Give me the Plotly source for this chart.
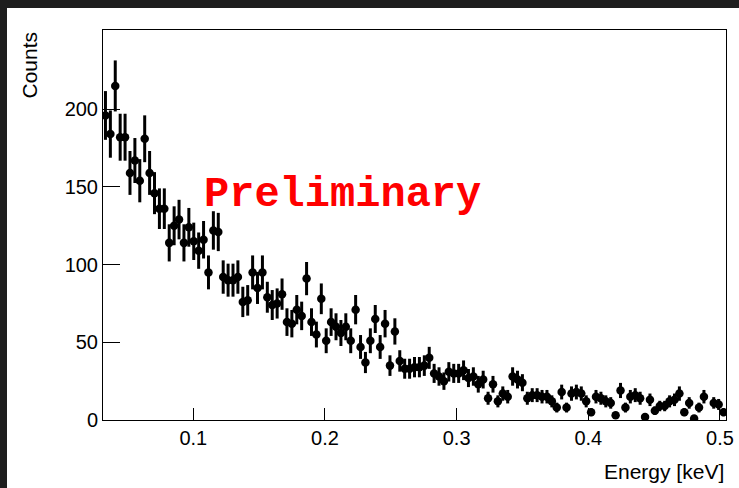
import numpy as np
import plotly.graph_objects as go

# Histogram binning (keV)
x_min = 0.0314
x_max = 0.5046
n_bins = 127

# Counts per bin (None = empty bin, not drawn)
counts = [
    196, 184, 215, 182, 182, 159, 167, 154, 181, 159,
    146, 136, 136, 114, 125, 129, 114, 124, 115, 109,
    116, 95, 122, 121, 92, 90, 90, 92, 76, 77,
    95, 85, 95, 79, 74, 75, 81, 63, 62, 71,
    67, 91, 63, 55, 78, 51, 63, 60, 56, 60,
    51, 71, 47, 37, 51, 65, 47, 62, 35, 57,
    38, 33, 33, 34, 34, 35, 40, 30, 28, 25,
    31, 30, 30, 32, 27, 28, 23, 26, 14, 23,
    12, 17, 15, 28, 26, 24, 14, 16, 16, 15,
    15, 12, 8, 18, 8, 17, 18, 17, 12, 5,
    15, 14, 12, 11, 3, 19, 8, 15, 16, 14,
    2, 13, 6, 9, 9, 12, 13, 17, 5, 11,
    1, 8, 15, None, 11, 10, 5,
]

x_ticks = [0.1, 0.2, 0.3, 0.4, 0.5]
x_ticklabels = ["0.1", "0.2", "0.3", "0.4", "0.5"]
y_ticks = [0, 50, 100, 150, 200]
y_ticklabels = ["0", "50", "100", "150", "200"]

edges = np.linspace(x_min, x_max, n_bins + 1)
centers = 0.5 * (edges[:-1] + edges[1:])
# Poisson-like statistical uncertainty
errors = [None if c is None else 1.12 * np.sqrt(c) for c in counts]

W, H = 739, 488
L, R, T, B = 103, 726, 30, 420  # plot area in pixels
DARK = "#1e1e1e"


def px(xp):
    return (xp - L) / (R - L)


def py(yp):
    return (B - yp) / (B - T)


fig = go.Figure()
fig.add_trace(go.Scatter(
    x=centers, y=counts, mode="markers",
    marker=dict(color="black", size=8.5, symbol="circle"),
    error_y=dict(type="data", array=errors, visible=True,
                 color="black", thickness=3, width=0),
    showlegend=False, hoverinfo="x+y",
))

font = "Liberation Sans, Arial, Helvetica, sans-serif"

fig.update_layout(
    width=W, height=H, autosize=False,
    margin=dict(l=L, r=W - R, t=T, b=H - B, pad=0, autoexpand=False),
    paper_bgcolor="white",
    plot_bgcolor="white",
    font=dict(family=font, size=20, color="black"),
    xaxis=dict(
        range=[x_min, x_max], tickvals=x_ticks, ticktext=x_ticklabels,
        ticks="inside", ticklen=12, tickwidth=1, tickcolor="black",
        showline=True, linecolor="black", linewidth=1, mirror=True,
        showgrid=False, zeroline=False, automargin=False,
        tickfont=dict(family=font, size=20, color="black"),
    ),
    yaxis=dict(
        range=[0, 251], tickvals=y_ticks, ticktext=y_ticklabels,
        ticks="inside", ticklen=17, tickwidth=1, tickcolor="black",
        showline=True, linecolor="black", linewidth=1, mirror=True,
        showgrid=False, zeroline=False, automargin=False,
        tickfont=dict(family=font, size=20, color="black"),
    ),
    shapes=[
        dict(type="rect", xref="paper", yref="paper", layer="below",
             x0=px(-2), x1=px(W + 2), y0=py(8), y1=py(-2),
             fillcolor=DARK, line=dict(width=0)),
        dict(type="rect", xref="paper", yref="paper", layer="below",
             x0=px(-2), x1=px(7), y0=py(H + 2), y1=py(-2),
             fillcolor=DARK, line=dict(width=0)),
    ],
    annotations=[
        dict(text="Counts", xref="paper", yref="paper",
             x=px(29), y=1.0, xanchor="center", yanchor="top",
             textangle=-90, showarrow=False,
             font=dict(family=font, size=21, color="black")),
        dict(text="Energy [keV]", xref="paper", yref="paper",
             x=1.0, y=py(471), xanchor="right", yanchor="middle",
             showarrow=False,
             font=dict(family=font, size=21, color="black")),
        dict(text="<b>Preliminary</b>", xref="paper", yref="paper",
             x=px(342), y=py(195), xanchor="center", yanchor="middle",
             showarrow=False,
             font=dict(family="Liberation Mono, DejaVu Sans Mono, monospace",
                       size=42, color="#ff0000")),
    ],
)

fig.write_html(
    "out.html",
    config={"responsive": False, "displayModeBar": False},
    post_script="document.body.style.margin='0';"
                "document.body.style.overflow='hidden';"
                "document.body.style.background='white';",
)
